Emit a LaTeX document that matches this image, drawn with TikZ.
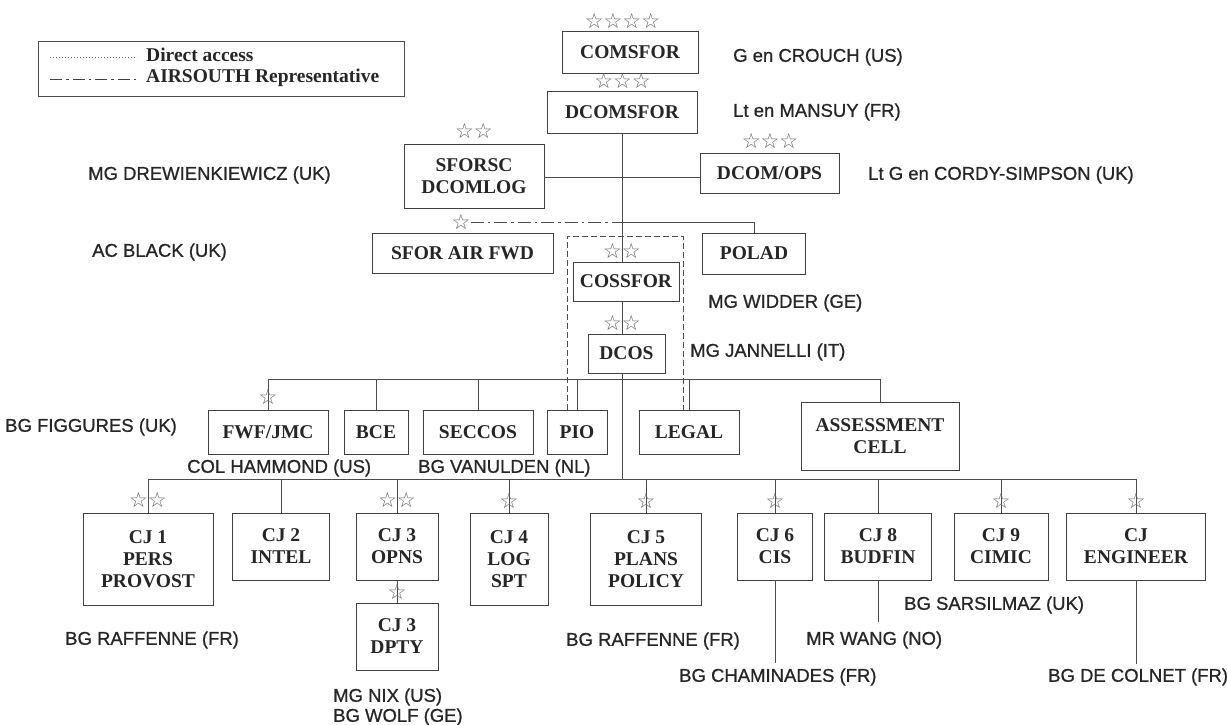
\documentclass[tikz,border=0pt]{standalone}
\usepackage{fontspec}
\setmainfont{Liberation Serif}
\newfontfamily\labfont[FakeBold=0.8]{Liberation Sans}
\newfontfamily\symfont{DejaVu Sans}
\usetikzlibrary{calc}
\tikzset{
  box/.style={draw=black!75, line width=0.9pt, fill=white, text=black!85,
    font=\bfseries\fontsize{19.5}{22}\selectfont, align=center, inner sep=0pt},
  conn/.style={draw=black!70, line width=0.9pt},
  lab/.style={anchor=west, inner sep=0pt, text=black!85,
    font=\labfont\fontsize{18.5}{20}\selectfont},
  stars/.style={inner sep=0pt, text=black!60, font=\symfont\fontsize{21}{21}\selectfont},
  legtext/.style={anchor=west, inner sep=0pt, text=black!85,
    font=\bfseries\fontsize{19.5}{22}\selectfont},
  airsouth/.style={draw=black!70, line width=0.9pt, dash pattern=on 13pt off 4pt on 2.5pt off 4pt},
  direct/.style={draw=black!70, line width=0.9pt, dash pattern=on 6pt off 3pt}
}
\begin{document}
\begin{tikzpicture}[x=1pt,y=-1pt]
\useasboundingbox (0,0) rectangle (1227,724);
% legend
\node[draw=black!70, line width=0.9pt, minimum width=366pt, minimum height=55pt, inner sep=0pt] (legend) at (221,68.5) {};
\coordinate (l1a) at (50,57); \coordinate (l1b) at (137,57);
\coordinate (l2a) at (50,79); \coordinate (l2b) at (137,79);
\draw[black!60, line width=0.8pt, dash pattern=on 0.8pt off 2.2pt] (l1a) -- (l1b);
\draw[draw=black!75, line width=1pt, dash pattern=on 12pt off 4pt on 2.5pt off 4pt] (l2a) -- (l2b);
\node[legtext] (ltx1) at (146,55) {Direct access};
\node[legtext] (ltx2) at (146,78) {AIRSOUTH Representative};

% top boxes
\node[box, minimum width=136pt, minimum height=42pt] (comsfor) at (630,52) {COMSFOR};
\node[box, minimum width=150pt, minimum height=42pt] (dcomsfor) at (622,112) {DCOMSFOR};
\node[box, minimum width=140pt, minimum height=64pt] (sforsc) at (474,176) {SFORSC\\DCOMLOG};
\node[box, minimum width=139pt, minimum height=40pt] (dcomops) at (769.5,173) {DCOM/OPS};
\node[box, minimum width=181pt, minimum height=40pt] (sforair) at (462.5,253) {SFOR AIR FWD};
\node[box, minimum width=103pt, minimum height=41pt] (polad) at (754,253.5) {POLAD};
\node[box, minimum width=106pt, minimum height=39pt] (cossfor) at (626,281.5) {COSSFOR};
\node[box, minimum width=77pt, minimum height=39pt] (dcos) at (626.5,353.5) {DCOS};

% row 1
\node[box, minimum width=120pt, minimum height=44pt] (fwf) at (268,432) {FWF/JMC};
\node[box, minimum width=64pt, minimum height=44pt] (bce) at (376,432) {BCE};
\node[box, minimum width=110pt, minimum height=44pt] (seccos) at (478,432) {SECCOS};
\node[box, minimum width=60pt, minimum height=44pt] (pio) at (577,432) {PIO};
\node[box, minimum width=100pt, minimum height=44pt] (legal) at (689,432) {LEGAL};
\node[box, minimum width=158pt, minimum height=68pt] (assess) at (880,436) {ASSESSMENT\\CELL};

% row 2
\node[box, minimum width=130pt, minimum height=92pt] (cj1) at (148,559) {CJ 1\\PERS\\PROVOST};
\node[box, minimum width=97pt, minimum height=67pt] (cj2) at (281,546.5) {CJ 2\\INTEL};
\node[box, minimum width=82pt, minimum height=67pt] (cj3) at (397,546.5) {CJ 3\\OPNS};
\node[box, minimum width=82pt, minimum height=67pt] (cj3d) at (397,636.5) {CJ 3\\DPTY};
\node[box, minimum width=78pt, minimum height=92pt] (cj4) at (509,559) {CJ 4\\LOG\\SPT};
\node[box, minimum width=111pt, minimum height=92pt] (cj5) at (646,559) {CJ 5\\PLANS\\POLICY};
\node[box, minimum width=75pt, minimum height=67pt] (cj6) at (775,546.5) {CJ 6\\CIS};
\node[box, minimum width=107pt, minimum height=67pt] (cj8) at (878,546.5) {CJ 8\\BUDFIN};
\node[box, minimum width=94pt, minimum height=67pt] (cj9) at (1001,546.5) {CJ 9\\CIMIC};
\node[box, minimum width=139pt, minimum height=67pt] (cjeng) at (1136,546.5) {CJ\\ENGINEER};

% coordinates
\coordinate (b1) at (0,379);
\coordinate (b2) at (0,479);
\coordinate (air) at (0,222);
\coordinate (e6) at (775,663);
\coordinate (e8) at (878,622);
\coordinate (eE) at (1136,664);
\coordinate (dl) at (567,236);
\coordinate (dr) at (683,236);

% spine
\draw[conn] (dcomsfor.south) -- (dcomsfor.south |- cossfor.north);
\draw[conn] (dcomsfor.south |- cossfor.south) -- (dcomsfor.south |- dcos.north);
\draw[conn] (dcomsfor.south |- dcos.south) -- (dcomsfor.south |- b2);
\draw[conn] (sforsc.east |- 0,177) -- (dcomops.west |- 0,177);
\draw[conn] (dcomsfor.south |- air) -- (polad.north |- air) -- (polad.north);

% direct access dashed
\draw[direct] (pio.north -| dl) -- (dl) -- (dr) -- (legal.north -| dr);

% bus 1
\draw[conn] (fwf.north) -- (fwf.north |- b1) -- (assess.north |- b1) -- (assess.north);
\foreach \n in {bce,seccos,pio,legal} \draw[conn] (\n.north) -- (\n.north |- b1);

% bus 2
\draw[conn] (cj1.north) -- (cj1.north |- b2) -- (cjeng.north |- b2) -- (cjeng.north);
\foreach \n in {cj2,cj3,cj4,cj5,cj6,cj8,cj9} \draw[conn] (\n.north) -- (\n.north |- b2);
\draw[conn] (cj3.south) -- (cj3d.north);
\draw[conn] (cj6.south) -- (e6);
\draw[conn] (cj8.south) -- (e8);
\draw[conn] (cjeng.south) -- (eE);

% stars
\node[stars] (s1) at (622.5,21) {☆☆☆☆};
\node[stars] (s2) at (622.5,81) {☆☆☆};
\node[stars] (s3) at (474,131) {☆☆};
\node[stars] (s4) at (770,141) {☆☆☆};
\node[stars] (s5) at (461,222) {☆};
\draw[airsouth] (s5.east) -- (dcomsfor.south |- air);
\node[stars] (s6) at (622,251) {☆☆};
\node[stars] (s7) at (622,323) {☆☆};
\node[stars] (s8) at (268,397) {☆};
\node[stars] (s9) at (148,500) {☆☆};
\node[stars] (s10) at (397,500) {☆☆};
\node[stars] (s11) at (397,592) {☆};
\node[stars] (s12) at (509,501) {☆};
\node[stars] (s13) at (646,501) {☆};
\node[stars] (s14) at (775,501) {☆};
\node[stars] (s15) at (1001,501) {☆};
\node[stars] (s16) at (1136,501) {☆};

% labels
\node[lab] (t1) at (733,57) {G en CROUCH (US)};
\node[lab] (t2) at (733,112) {Lt en MANSUY (FR)};
\node[lab] (t3) at (88,175) {MG DREWIENKIEWICZ (UK)};
\node[lab] (t4) at (868,175) {Lt G en CORDY-SIMPSON (UK)};
\node[lab] (t5) at (92,252) {AC BLACK (UK)};
\node[lab] (t6) at (708,303) {MG WIDDER (GE)};
\node[lab] (t7) at (690,352) {MG JANNELLI (IT)};
\node[lab] (t8) at (5,427) {BG FIGGURES (UK)};
\node[lab] (t9) at (187,468) {COL HAMMOND (US)};
\node[lab] (t10) at (418,468) {BG VANULDEN (NL)};
\node[lab] (t11) at (65,640) {BG RAFFENNE (FR)};
\node[lab] (t12) at (333,697) {MG NIX (US)};
\node[lab] (t13) at (333,717) {BG WOLF (GE)};
\node[lab] (t14) at (566,641) {BG RAFFENNE (FR)};
\node[lab] (t15) at (806,640) {MR WANG (NO)};
\node[lab] (t16) at (679,677) {BG CHAMINADES (FR)};
\node[lab] (t17) at (904,605) {BG SARSILMAZ (UK)};
\node[lab] (t18) at (1048,677) {BG DE COLNET (FR)};
\end{tikzpicture}
\end{document}
